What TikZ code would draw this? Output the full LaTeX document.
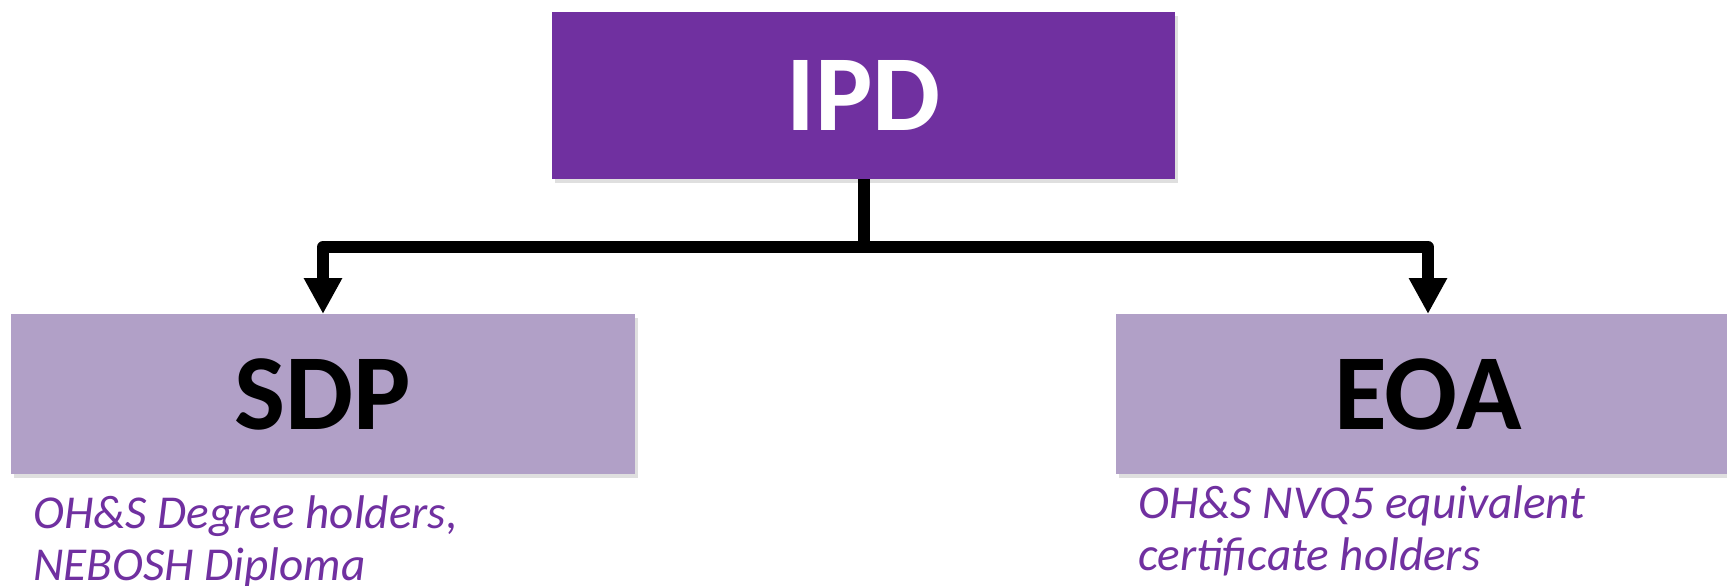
\documentclass[tikz,border=0pt]{standalone}
\usepackage{fontspec}
\setmainfont{Carlito}
\usetikzlibrary{arrows.meta,shadows}
\definecolor{ipdpurple}{HTML}{7030A0}
\definecolor{lilac}{HTML}{B1A0C7}
\begin{document}
\begin{tikzpicture}[x=0.5pt,y=-0.5pt,
  box/.style={rectangle, inner sep=0pt, outer sep=0pt,
    drop shadow={opacity=0.25, shadow xshift=1.5pt, shadow yshift=-2pt}},
  topbox/.style={box, fill=ipdpurple, text=white, minimum width=311.5pt, minimum height=83.5pt,
    font=\fontsize{54}{60}\selectfont\bfseries},
  subbox/.style={box, fill=lilac, text=black, minimum width=312pt, minimum height=80pt,
    font=\fontsize{54}{60}\selectfont\bfseries},
  conn/.style={draw=black, line width=6pt, line join=round},
  tip/.style={-{Triangle[width=18pt,length=18pt]}},
  note/.style={anchor=base west, align=left, inner sep=0pt, text=ipdpurple,
    font=\fontsize{23.6}{26}\selectfont\itshape}
]
\useasboundingbox (0,0) rectangle (1727,585);
\fill[white] (0,0) rectangle (1727,585);

\node[topbox] (ipd) at (863.5,95.5) {IPD};
\node[subbox] (sdp) at (323,394) {SDP};
\node[subbox] (eoa) at (1428,394) {EOA};

\coordinate (j) at (863.5,247);
\draw[conn] (ipd.south) -- (j);
\draw[conn,tip] (j) -| (sdp.north);
\draw[conn,tip] (j) -| (eoa.north);

% base anchor = baseline of the last line
\node[note] (sdpnote) at (33,580)
  {OH\&S Degree holders,\\NEBOSH Diploma};
\node[note] (eoanote) at (1138,570)
  {OH\&S NVQ5 equivalent\\certificate holders};
\end{tikzpicture}
\end{document}
